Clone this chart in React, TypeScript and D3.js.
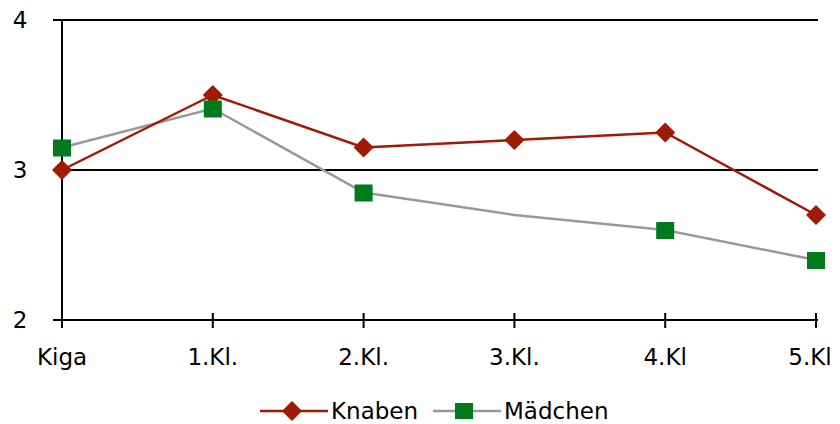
import React from "react";
import * as d3 from "d3";

const categories = ["Kiga", "1.Kl.", "2.Kl.", "3.Kl.", "4.Kl", "5.Kl"];
const knaben = [3.0, 3.5, 3.15, 3.2, 3.25, 2.7];
const maedchen = [3.15, 3.41, 2.85, 2.7, 2.6, 2.4];
// points of the Mädchen series that carry a marker
const maedchenMarked = [true, true, true, false, true, true];
const yTicks = [2, 3, 4];

const W = 840;
const H = 424;
const left = 62;
const right = 816;
const top = 20;
const bottom = 320;
const font = "'DejaVu Sans', Verdana, sans-serif";

const red = "#A11A06";
const gray = "#999999";
const green = "#007A1C";

export default function App() {
  const x = d3.scalePoint<string>().domain(categories).range([left, right]);
  const y = d3.scaleLinear().domain([2, 4]).range([bottom, top]);
  const line = d3
    .line<number>()
    .x((_, i) => x(categories[i]) as number)
    .y((d) => y(d));

  const diamond = (cx: number, cy: number, r: number) =>
    `M${cx},${cy - r}L${cx + r},${cy}L${cx},${cy + r}L${cx - r},${cy}Z`;

  return (
    <svg
      width={W}
      height={H}
      style={{ position: "absolute", left: 0, top: 0, background: "#fff" }}
    >
      {yTicks.map((t) => (
        <g key={t}>
          <line x1={left - 9} x2={right + 2} y1={y(t)} y2={y(t)} stroke="#000" strokeWidth={2} />
          <text x={20} y={y(t) + 8} textAnchor="middle" fontFamily={font} fontSize={23} fill="#000">
            {t}
          </text>
        </g>
      ))}
      <line x1={left} x2={left} y1={top} y2={bottom + 8} stroke="#000" strokeWidth={2} />
      {categories.map((c, i) => (
        <g key={c}>
          <line x1={x(c)} x2={x(c)} y1={bottom - 7} y2={bottom + 8} stroke="#000" strokeWidth={2} />
          <text
            x={i === categories.length - 1 ? 810 : x(c)}
            y={365}
            textAnchor="middle"
            fontFamily={font}
            fontSize={23}
            fill="#000"
          >
            {c}
          </text>
        </g>
      ))}
      <path d={line(maedchen) || ""} fill="none" stroke={gray} strokeWidth={2.5} />
      <path d={line(knaben) || ""} fill="none" stroke={red} strokeWidth={2.5} />
      {knaben.map((v, i) => (
        <path key={"k" + i} d={diamond(x(categories[i]) as number, y(v), 9)} fill={red} stroke={red} strokeLinejoin="round" strokeWidth={1.5} />
      ))}
      {maedchen.map((v, i) =>
        maedchenMarked[i] ? (
          <rect key={"m" + i} x={(x(categories[i]) as number) - 9} y={y(v) - 8} width={18} height={17} fill={green} />
        ) : null
      )}
      {/* legend */}
      <g>
        <line x1={260} x2={328} y1={411} y2={411} stroke={red} strokeWidth={2.5} />
        <path d={diamond(292, 411, 9)} fill={red} stroke={red} strokeLinejoin="round" strokeWidth={1.5} />
        <text x={331} y={419} fontFamily={font} fontSize={23} fill="#000">Knaben</text>
        <line x1={433} x2={501} y1={411} y2={411} stroke={gray} strokeWidth={2.5} />
        <rect x={455} y={403} width={18} height={16} fill={green} />
        <text x={504} y={419} fontFamily={font} fontSize={23} fill="#000">Mädchen</text>
      </g>
    </svg>
  );
}
